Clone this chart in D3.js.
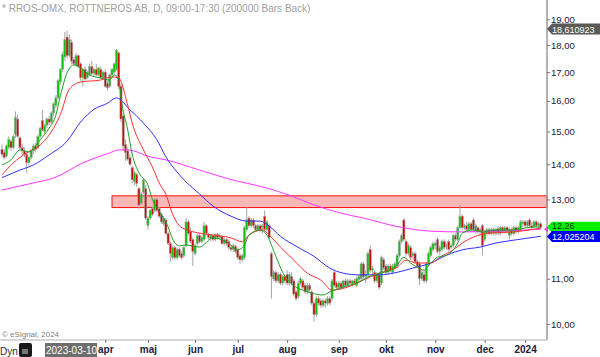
<!DOCTYPE html>
<html><head><meta charset="utf-8">
<script src="https://cdn.jsdelivr.net/npm/d3@7"></script>
<style>body{margin:0;background:#fff;} svg{display:block;font-family:Arial,"Liberation Sans",sans-serif;}</style>
</head><body><svg id="c" width="600" height="357"></svg>
<script>
// ---------- DATA ----------
const title = "* RROS-OMX, ROTTNEROS AB, D, 09:00-17:30 (200000 Bars Back)";
const opens = [
14.45,14.35,14.25,14.50,14.70,14.50,14.90,15.40,14.80,14.50,
14.40,14.30,14.05,14.20,14.40,14.55,14.50,14.85,15.35,15.00,
15.20,15.40,15.30,15.60,15.85,16.10,16.65,17.10,17.55,18.30,
17.60,18.10,17.45,17.25,17.60,17.30,16.80,17.10,16.80,16.90,
17.20,16.95,17.10,16.90,17.10,16.80,17.00,16.60,16.50,16.90,
17.00,17.10,17.70,16.50,15.50,14.60,14.40,14.20,13.90,13.50,
13.70,13.30,12.90,13.20,13.30,12.30,12.50,12.75,12.70,13.00,
12.75,12.60,12.35,12.45,12.10,11.85,11.50,11.75,11.50,11.70,
11.60,11.55,11.80,12.40,12.15,11.95,11.60,11.85,12.05,11.90,
11.95,12.30,12.08,11.98,12.05,11.95,12.08,12.00,12.02,11.85,
11.95,11.90,11.75,11.70,11.78,11.70,11.55,11.45,11.50,12.20,
12.50,12.30,12.45,12.30,12.20,12.30,12.25,12.55,12.20,12.30,
11.60,11.00,11.15,10.95,11.10,10.90,11.05,11.10,10.90,11.05,
10.95,10.70,10.60,10.90,10.95,10.85,10.70,10.85,10.70,10.45,
10.20,10.55,10.50,10.40,10.50,10.45,10.55,10.55,11.15,10.90,
10.80,10.90,10.80,10.95,10.85,10.95,10.88,10.95,10.85,10.98,
11.00,11.35,11.05,11.10,11.70,11.20,11.15,10.95,11.10,10.90,
11.45,11.30,11.15,11.30,11.15,11.25,11.30,11.55,11.90,12.45,
11.90,11.60,11.75,11.55,11.60,11.40,11.35,11.00,11.10,10.95,
11.35,11.55,11.70,11.80,11.95,11.65,11.70,11.90,11.80,11.90,
11.75,11.80,12.05,11.95,12.25,12.55,12.25,12.30,12.20,12.35,
12.45,12.15,12.25,12.15,12.30,11.95,12.10,12.20,12.10,12.20,
12.10,12.22,12.10,12.25,12.15,12.25,12.05,12.20,12.10,12.25,
12.15,12.20,12.35,12.40,12.30,12.45,12.30,12.28,12.40,12.30,
12.35];
const highs = [
14.60,14.45,14.60,14.85,14.75,14.90,15.65,15.55,14.85,14.60,
14.50,14.35,14.25,14.45,14.60,14.65,14.90,15.15,15.70,15.25,
15.45,15.50,15.65,15.95,16.20,16.75,17.15,17.75,18.50,18.55,
18.40,18.20,17.55,17.70,17.65,17.35,17.15,17.20,17.05,17.30,
17.40,17.15,17.30,17.20,17.20,17.05,17.10,16.70,16.95,17.15,
17.35,17.85,17.75,16.60,15.55,14.75,14.50,14.30,13.95,13.80,
13.75,13.35,13.20,13.60,13.40,12.55,12.75,12.80,13.05,13.05,
12.80,12.65,12.55,12.50,12.15,11.90,11.80,11.80,11.75,11.75,
11.65,11.80,12.50,12.45,12.25,12.00,11.85,12.10,12.10,12.05,
12.40,12.35,12.12,12.08,12.10,12.10,12.12,12.10,12.05,12.00,
11.98,11.95,11.82,11.85,11.82,11.75,11.60,11.60,12.30,12.80,
12.55,12.50,12.50,12.35,12.35,12.35,12.35,12.70,12.45,12.35,
11.65,11.20,11.20,11.15,11.15,11.10,11.10,11.20,11.15,11.15,
11.00,10.75,10.95,11.05,11.00,10.90,10.90,10.90,10.75,10.50,
10.60,10.60,10.55,10.55,10.55,10.60,10.60,11.00,11.20,10.95,
10.95,10.95,10.98,11.00,11.00,11.00,10.98,11.00,11.05,11.10,
11.40,11.40,11.20,11.65,11.80,11.30,11.20,11.15,11.15,11.55,
11.50,11.35,11.35,11.35,11.35,11.40,11.60,11.95,12.10,12.50,
11.95,11.85,11.80,11.65,11.65,11.45,11.40,11.20,11.20,11.40,
11.65,11.80,11.90,11.90,12.00,11.80,11.95,11.95,11.85,11.95,
11.85,12.10,12.10,12.30,12.85,12.60,12.35,12.40,12.40,12.40,
12.50,12.35,12.30,12.25,12.35,12.20,12.25,12.25,12.25,12.25,
12.25,12.30,12.30,12.30,12.30,12.30,12.25,12.25,12.30,12.30,
12.30,12.45,12.45,12.45,12.45,12.50,12.40,12.45,12.45,12.40,
12.40];
const lows = [
14.20,14.15,14.20,14.45,14.40,14.45,14.80,14.80,14.45,14.25,
14.20,13.75,13.95,14.15,14.30,14.35,14.45,14.80,15.00,14.90,
15.10,15.20,15.25,15.50,15.75,16.05,16.55,17.00,17.40,17.50,
17.55,17.30,17.25,17.20,17.15,16.70,16.50,16.70,16.75,16.85,
16.90,16.85,16.85,16.85,16.75,16.75,16.45,16.35,16.45,16.85,
16.95,17.05,16.40,15.30,14.40,14.10,14.10,13.95,13.45,13.40,
13.35,12.75,12.85,13.15,12.45,12.20,12.45,12.55,12.65,12.65,
12.50,12.35,12.30,12.05,11.80,11.40,11.45,11.45,11.45,11.50,
11.45,11.50,11.75,12.05,11.85,11.30,11.55,11.80,11.85,11.85,
11.90,12.05,11.95,11.90,11.90,11.90,11.95,11.95,11.80,11.80,
11.80,11.70,11.65,11.65,11.60,11.45,11.35,11.40,11.45,12.15,
12.25,12.25,12.25,12.15,12.15,12.15,12.10,12.15,12.15,11.95,
10.55,10.95,10.90,10.90,10.85,10.85,10.90,10.85,10.85,10.85,
10.60,10.50,10.55,10.85,10.75,10.65,10.65,10.70,10.40,10.05,
10.15,10.40,10.35,10.35,10.35,10.40,10.40,10.50,10.80,10.75,
10.75,10.75,10.78,10.80,10.80,10.85,10.82,10.85,10.80,10.90,
10.95,11.00,10.90,11.05,11.15,11.05,10.90,10.90,10.75,10.85,
11.20,11.10,11.10,11.15,11.10,11.20,11.25,11.50,11.85,11.90,
11.55,11.55,11.45,11.45,11.35,11.25,10.85,10.95,10.90,10.90,
11.30,11.50,11.65,11.70,11.60,11.55,11.65,11.70,11.70,11.65,
11.70,11.75,11.90,11.90,12.20,12.20,12.20,12.15,12.15,12.15,
12.15,12.10,12.10,12.05,11.55,11.90,12.05,12.05,12.05,12.05,
12.05,12.05,12.05,12.10,12.10,12.10,11.95,12.05,12.05,12.10,
12.10,12.15,12.25,12.25,12.25,12.25,12.20,12.25,12.25,12.20,
12.20];
const closes = [
14.30,14.20,14.55,14.75,14.50,14.85,15.45,14.85,14.50,14.40,
14.30,14.05,14.20,14.40,14.55,14.45,14.85,15.10,15.05,15.20,
15.40,15.30,15.60,15.90,16.10,16.70,17.10,17.65,18.20,17.60,
18.20,17.40,17.30,17.60,17.20,16.80,17.10,16.75,17.00,17.20,
16.95,17.10,16.90,17.15,16.80,17.00,16.50,16.45,16.90,17.10,
17.30,17.80,16.50,15.40,14.55,14.35,14.15,14.00,13.55,13.75,
13.45,12.85,13.15,13.55,12.50,12.50,12.70,12.60,13.00,12.70,
12.55,12.40,12.50,12.10,11.85,11.60,11.75,11.50,11.70,11.55,
11.50,11.75,12.40,12.10,11.90,11.65,11.80,12.05,11.90,12.00,
12.30,12.10,12.00,12.05,11.95,12.08,12.00,12.05,11.85,11.95,
11.85,11.75,11.70,11.80,11.65,11.50,11.45,11.55,12.25,12.45,
12.30,12.45,12.30,12.20,12.30,12.20,12.30,12.20,12.40,12.00,
11.05,11.15,10.95,11.10,10.90,11.05,10.95,10.90,11.10,10.90,
10.65,10.55,10.90,11.00,10.80,10.70,10.85,10.75,10.45,10.20,
10.55,10.45,10.40,10.50,10.45,10.55,10.45,10.95,10.85,10.80,
10.90,10.80,10.95,10.85,10.95,10.90,10.95,10.90,11.00,11.05,
11.35,11.05,11.10,11.60,11.20,11.25,10.95,11.10,10.80,11.50,
11.25,11.15,11.30,11.20,11.30,11.35,11.55,11.90,12.05,11.95,
11.60,11.80,11.50,11.60,11.40,11.30,11.00,11.15,10.95,11.35,
11.60,11.75,11.85,11.85,11.65,11.75,11.90,11.75,11.80,11.70,
11.80,12.05,11.95,12.25,12.55,12.25,12.30,12.20,12.35,12.20,
12.20,12.30,12.15,12.20,11.80,12.15,12.20,12.10,12.20,12.12,
12.20,12.12,12.25,12.15,12.25,12.15,12.20,12.10,12.25,12.15,
12.25,12.40,12.40,12.30,12.40,12.30,12.25,12.40,12.30,12.35,
12.26];

// moving averages: [bar index, price]
const maFast = [[0,13.98],[4,14.13],[8,14.43],[12,14.37],[17,14.74],[21,15.11],[24,15.53],[26,16.17],[29,16.98],[32,17.26],[35,17.15],[39,16.90],[44,16.79],[48,16.72],[50,16.90],[52,16.75],[53,16.10],[56,15.05],[58,14.30],[61,13.75],[65,13.40],[67,13.00],[70,12.68],[74,12.27],[76,11.96],[79,11.79],[82,11.81],[88,11.76],[94,11.99],[100,11.89],[105,11.69],[108,11.81],[110,12.06],[115,12.19],[118,12.06],[122,11.53],[125,11.15],[130,10.84],[134,10.74],[138,10.67],[143,10.63],[146,10.70],[152,10.81],[158,10.90],[163,11.04],[168,11.13],[173,11.20],[176,11.32],[179,11.51],[182,11.37],[185,11.27],[188,11.20],[191,11.37],[194,11.51],[198,11.56],[203,11.86],[205,12.11],[210,12.19],[214,12.14],[220,12.19],[228,12.19],[235,12.26],[240,12.27]];
const maMid = [[0,13.69],[5,14.04],[11,14.34],[17,14.58],[21,14.89],[26,15.55],[30,16.40],[35,16.65],[44,16.72],[49,16.83],[52,16.79],[56,15.85],[58,15.27],[63,14.43],[67,13.92],[70,13.46],[73,13.14],[76,12.60],[79,12.30],[82,12.20],[87,12.12],[94,12.06],[102,11.99],[107,11.89],[110,12.06],[116,12.19],[119,12.06],[124,11.76],[130,11.44],[136,11.13],[142,10.97],[147,10.74],[154,10.81],[161,10.97],[168,11.13],[176,11.27],[180,11.44],[185,11.37],[191,11.37],[195,11.51],[201,11.69],[205,11.86],[210,12.01],[217,12.11],[228,12.14],[240,12.24]];
const maSlow = [[0,13.61],[8,13.83],[14,13.98],[21,14.28],[29,14.70],[35,15.30],[41,15.72],[47,15.92],[51,16.10],[57,15.70],[63,15.27],[69,14.74],[73,14.22],[78,13.77],[82,13.49],[88,13.15],[94,12.82],[102,12.55],[109,12.42],[115,12.42],[119,12.29],[124,12.03],[131,11.78],[139,11.53],[146,11.25],[152,11.13],[159,11.09],[168,11.09],[176,11.15],[183,11.25],[191,11.37],[198,11.56],[205,11.69],[213,11.76],[220,11.86],[229,11.94],[240,12.03]];
const ma200 = [[0,13.26],[14,13.46],[23,13.60],[36,14.04],[48,14.34],[52,14.43],[56,14.43],[66,14.22],[73,14.13],[88,13.83],[103,13.54],[116,13.35],[130,13.07],[139,12.85],[151,12.63],[161,12.50],[176,12.28],[191,12.16],[205,12.14],[220,12.16],[240,12.21]];

const zone = {fromIndex: 49, low: 12.78, high: 13.10};
const yTicks = [10,11,13,14,15,16,17,18,19];
const monthLabels = ["apr","maj","jun","jul","aug","sep","okt","nov","dec","2024"];
const monthStartIdx = [46,65,86,105,127,150,171,193,215,233];
const priceTags = [
  {value: 18.610923, text: "18,610923"},
  {value: 12.26, text: "12,26"},
  {value: 12.025204, text: "12,025204"}
];
const cursorDate = "2023-03-10";
const copyright = "\u00A9 eSignal, 2024";

// ---------- DRAW ----------
const svg = d3.select("#c");
const AX = 547, BOTTOM = 340;
const x = d3.scaleLinear().domain([0, closes.length - 1]).range([2, 540.8]);
const y = d3.scaleLog().domain([10, 19]).range([324, 19.3]);

// zone
svg.append("rect")
  .attr("x", x(zone.fromIndex)).attr("y", y(zone.high))
  .attr("width", AX - x(zone.fromIndex)).attr("height", y(zone.low) - y(zone.high))
  .attr("fill", "#ffb8b8").attr("stroke", "#ff1010").attr("stroke-width", 1);

// candles
const bars = d3.range(closes.length).map(i => ({i, o: opens[i], h: highs[i], l: lows[i], c: closes[i]}));
const g = svg.append("g");
g.selectAll("line.w").data(bars).join("line")
  .attr("x1", d => x(d.i)).attr("x2", d => x(d.i))
  .attr("y1", d => y(Math.max(d.h, d.o, d.c))).attr("y2", d => y(Math.min(d.l, d.o, d.c)))
  .attr("stroke", "#a4a4a4").attr("stroke-width", 1);
g.selectAll("rect.b").data(bars).join("rect")
  .attr("x", d => x(d.i) - 1.1).attr("width", 2.2)
  .attr("y", d => y(Math.max(d.o, d.c)))
  .attr("height", d => Math.max(1, Math.abs(y(d.o) - y(d.c))))
  .attr("fill", d => d.c >= d.o ? "#10c010" : "#c81010")
  .attr("stroke", "#a8a8a8").attr("stroke-width", 0.5);

// moving averages
const line = d3.line().x(d => x(d[0])).y(d => y(d[1])).curve(d3.curveMonotoneX);
[[ma200, "#ff33ff"], [maSlow, "#3030ff"], [maMid, "#ff3030"], [maFast, "#20a020"]].forEach(([pts, col]) => {
  svg.append("path").datum(pts).attr("d", line).attr("fill", "none")
    .attr("stroke", col).attr("stroke-width", 1);
});

// right axis
svg.append("line").attr("x1", AX).attr("x2", AX).attr("y1", 0).attr("y2", BOTTOM)
  .attr("stroke", "#9a9a9a").attr("stroke-width", 1.5);
const ya = svg.append("g").attr("transform", `translate(${AX},0)`)
  .call(d3.axisRight(y).tickValues(yTicks).tickSize(3).tickPadding(1)
    .tickFormat(d => d3.format(".2f")(d).replace(".", ",")));
ya.select(".domain").remove();
ya.selectAll("line").attr("stroke", "#777");
ya.selectAll("text").attr("fill", "#202040").attr("font-size", 9.5).attr("font-family", "Arial, 'Liberation Sans', sans-serif");

// bottom axis
svg.append("line").attr("x1", 0).attr("x2", AX).attr("y1", BOTTOM).attr("y2", BOTTOM)
  .attr("stroke", "#b0b0b0").attr("stroke-width", 1);
const xa = svg.append("g").attr("transform", `translate(0,${BOTTOM})`)
  .call(d3.axisBottom(x).tickValues(monthStartIdx).tickSize(3).tickPadding(3)
    .tickFormat((d, i) => monthLabels[i]));
xa.select(".domain").remove();
xa.selectAll("line").attr("stroke", "#777");
xa.selectAll("text").attr("fill", "#202040").attr("font-size", 10).attr("font-weight", "bold")
  .attr("font-family", "Arial, 'Liberation Sans', sans-serif");

// price tags
const tagStyle = [
  {fill: "#5a5a5a", text: "#ffffff", dy: 0.8},
  {fill: "#00f000", text: "#003000", dy: -0.8},
  {fill: "#0000f0", text: "#ffffff", dy: 0.8}
];
priceTags.forEach((t, k) => {
  const yy = y(t.value), s = tagStyle[k];
  svg.append("path")
    .attr("d", `M${AX},${yy} L${AX + 5},${yy - 5.5} L600,${yy - 5.5} L600,${yy + 5.5} L${AX + 5},${yy + 5.5} Z`)
    .attr("fill", s.fill);
  svg.append("text").attr("x", AX + 5).attr("y", yy + s.dy).attr("dy", "0.33em")
    .attr("font-size", 9).attr("fill", s.text).text(t.text);
});
// small magenta marker of the long average
svg.append("path")
  .attr("d", `M${AX - 3},${y(ma200[ma200.length - 1][1])} l4,-3 l0,6 Z`).attr("fill", "#ff33ff");

// title, footer
svg.append("text").attr("x", 2).attr("y", 12).attr("font-size", 10).attr("fill", "#a0a0a0").text(title);
svg.append("text").attr("x", 2).attr("y", 337).attr("font-size", 8).attr("fill", "#808080").text(copyright);
svg.append("text").attr("x", 0).attr("y", 355).attr("font-size", 10).attr("fill", "#303030").text("Dyn");
svg.append("rect").attr("x", 19).attr("y", 343).attr("width", 13).attr("height", 14).attr("rx", 2).attr("fill", "#1a1a1a");
svg.append("rect").attr("x", 22).attr("y", 349).attr("width", 6).attr("height", 5).attr("fill", "#777");
svg.append("rect").attr("x", 45).attr("y", 343).attr("width", 52).attr("height", 14).attr("fill", "#6e6e6e");
svg.append("text").attr("x", 46).attr("y", 354).attr("font-size", 10).attr("fill", "#ffffff").text(cursorDate);
</script></body></html>
